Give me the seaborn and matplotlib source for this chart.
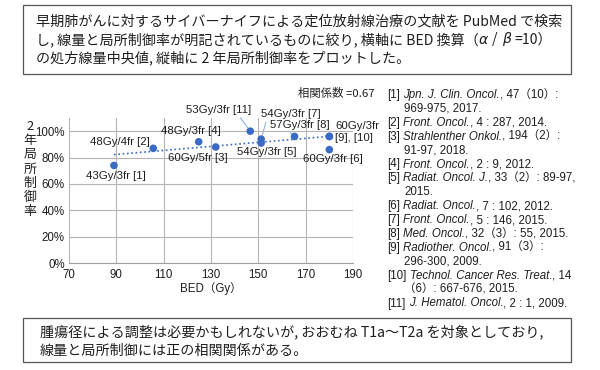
import numpy as np
import pandas as pd
import matplotlib.pyplot as plt
import seaborn as sns
from matplotlib.patches import Rectangle

sns.set_style("white")
plt.rcParams['font.family'] = ['Liberation Sans', 'Noto Sans CJK JP', 'DejaVu Sans']
JP = ['Noto Sans CJK JP', 'DejaVu Sans']
LAT = ['Liberation Sans', 'Noto Sans CJK JP', 'DejaVu Sans']
INK = '#1e1e1e'
BLUE = '#3a6bc4'

# --- データ ---
bed = [89, 105.6, 132, 124.8, 151.2, 180, 151.2, 165.3, 180, 180, 146.6]
local_ctrl = [74, 87, 88, 92, 91, 86, 94, 96, 96, 96, 100]
point_labels = ['43Gy/3fr [1]', '48Gy/4fr [2]', '60Gy/5fr [3]', '48Gy/3fr [4]',
                '54Gy/3fr [5]', '60Gy/3fr [6]', '54Gy/3fr [7]', '57Gy/3fr [8]',
                '60Gy/3fr\n[9], [10]', '', '53Gy/3fr [11]']
corr_text = '相関係数 =0.67'
x_ticks = [70, 90, 110, 130, 150, 170, 190]
y_ticks = [0, 20, 40, 60, 80, 100]

top_lines = [
    [('早期肺がんに対するサイバーナイフによる定位放射線治療の文献を PubMed で検索', 0)],
    [('し, 線量と局所制御率が明記されているものに絞り, 横軸に BED 換算（', 0),
     ('α', 1), (' / ', 0), ('β', 1), (' =10）', 0)],
    [('の処方線量中央値, 縦軸に 2 年局所制御率をプロットした。', 0)],
]
bottom_lines = [
    '腫瘍径による調整は必要かもしれないが, おおむね T1a〜T2a を対象としており,',
    '線量と局所制御には正の相関関係がある。',
]

# 文献リスト: (番号, 雑誌名, 続き, 2行目)
refs = [
    ('[1] ', 'Jpn. J. Clin. Oncol.', ', 47（10）:', '969-975, 2017.'),
    ('[2] ', 'Front. Oncol.', ', 4 : 287, 2014.', None),
    ('[3] ', 'Strahlenther Onkol.', ', 194（2）:', '91-97, 2018.'),
    ('[4] ', 'Front. Oncol.', ', 2 : 9, 2012.', None),
    ('[5] ', 'Radiat. Oncol. J.', ', 33（2）: 89-97,', '2015.'),
    ('[6] ', 'Radiat. Oncol.', ', 7 : 102, 2012.', None),
    ('[7] ', 'Front. Oncol.', ', 5 : 146, 2015.', None),
    ('[8] ', 'Med. Oncol.', ', 32（3）: 55, 2015.', None),
    ('[9] ', 'Radiother. Oncol.', ', 91（3）:', '296-300, 2009.'),
    ('[10] ', 'Technol. Cancer Res. Treat.', ', 14', '（6）: 667-676, 2015.'),
    ('[11] ', 'J. Hematol. Oncol.', ', 2 : 1, 2009.', None),
]

df = pd.DataFrame({'BED': bed, 'LC': local_ctrl, 'label': point_labels})

W, H = 600, 370
fig = plt.figure(figsize=(6, 3.7), dpi=100)
r = fig.canvas.get_renderer()


def fx(x):
    return x / W


def fy(y):
    return 1 - y / H


def put_line(x, y, segs, size, fam, italic_fam=None):
    """スタイル混在の1行をピクセル座標で配置"""
    cur = x
    spw = 0.28 * size * 100 / 72
    for s, it in segs:
        lead = len(s) - len(s.lstrip(' '))
        trail = len(s) - len(s.rstrip(' '))
        core = s.strip(' ')
        cur += lead * spw
        f = italic_fam if (it and italic_fam) else fam
        t = fig.text(fx(cur), fy(y), core, fontsize=size, family=f, color=INK,
                     style='italic' if it else 'normal', ha='left', va='center')
        cur += t.get_window_extent(r).width + trail * spw


# --- 散布図 ---
ax = fig.add_axes([fx(69), fy(263), 284 / W, 145 / H])
sns.regplot(data=df, x='BED', y='LC', ax=ax, scatter=False, ci=None,
            line_kws=dict(color=BLUE, lw=1.2, ls=(0, (1, 1.6))))
sns.scatterplot(data=df, x='BED', y='LC', ax=ax, color=BLUE, s=30,
                edgecolor='none', zorder=5)

ax.set_xlim(70, 190)
ax.set_ylim(0, 110)
ax.set_xticks(x_ticks)
ax.set_yticks(y_ticks)
ax.set_yticklabels([f'{v}%' for v in y_ticks])
ax.grid(True, color='#b4b4b4', lw=0.8)
ax.set_axisbelow(True)
for sp in ['top', 'right', 'left']:
    ax.spines[sp].set_visible(False)
ax.spines['bottom'].set_color('#a0a0a0')
ax.tick_params(axis='both', length=0, labelsize=8.3, colors=INK)
ax.tick_params(axis='y', pad=3)
ax.tick_params(axis='x', pad=4)
ax.set_xlabel('')
ax.set_ylabel('')

# ラベル位置（offset points）と引き出し線
offsets = [(1.4, -7.8, 'center', None), (-23.8, 4.8, 'center', None),
           (-13, -8.2, 'center', None), (-5.3, 7.4, 'center', None),
           (4.3, -6.7, 'center', None), (2.5, -6.5, 'center', None),
           (21.6, 18, 'center', (0.09, 0)), (4.1, 8.6, 'center', (0.27, 0)),
           (4.3, 3.2, 'left', None), (0, 0, 'center', None),
           (-22.9, 15.6, 'center', (0.8, 0))]
for (xv, yv, lab), (dx, dy, ha, rel) in zip(zip(bed, local_ctrl, point_labels), offsets):
    if not lab:
        continue
    kw = {}
    if rel is not None:
        kw['arrowprops'] = dict(arrowstyle='-', color='#8fb0e2', lw=0.8,
                                relpos=rel, shrinkA=0, shrinkB=3)
    ax.annotate(lab, (xv, yv), xytext=(dx, dy), textcoords='offset points',
                ha=ha, va='center', fontsize=8.2, color=INK,
                multialignment='left', family=LAT, **kw)

fig.text(fx(336), fy(93), corr_text, fontsize=8.2, color=INK, family=JP,
         ha='center', va='center')
fig.text(fx(211), fy(289), 'BED（Gy）', fontsize=8.3, color=INK, family=LAT,
         ha='center', va='center')
fig.text(fx(30), fy(169), '\n'.join('2年局所制御率'), fontsize=9.3, color=INK,
         family=JP, ha='center', va='center', linespacing=1.12,
         multialignment='center')

# --- 文献リスト ---
y = 95
step = 13.9
for tag, journal, tail, cont in refs:
    put_line(387, y, [(tag, 0), (journal, 1), (tail, 0)], 8.3, LAT)
    y += step
    if cont:
        put_line(404, y, [(cont, 0)], 8.3, LAT)
        y += step

# --- 上下の囲み ---
for (x0, y0, x1, y1) in [(23, 5, 571, 74), (23, 318, 571, 362)]:
    fig.add_artist(Rectangle((fx(x0), fy(y1)), (x1 - x0) / W, (y1 - y0) / H,
                             transform=fig.transFigure, fill=False,
                             edgecolor='#555555', lw=0.9))

for i, segs in enumerate(top_lines):
    put_line(36, 21 + 18.5 * i, segs, 10.15, JP, italic_fam=['DejaVu Sans'])
for i, line in enumerate(bottom_lines):
    fig.text(fx(40), fy(332 + 18.5 * i), line, fontsize=10.15, color=INK,
             family=JP, ha='left', va='center')

fig.savefig('out.png', dpi=100)
